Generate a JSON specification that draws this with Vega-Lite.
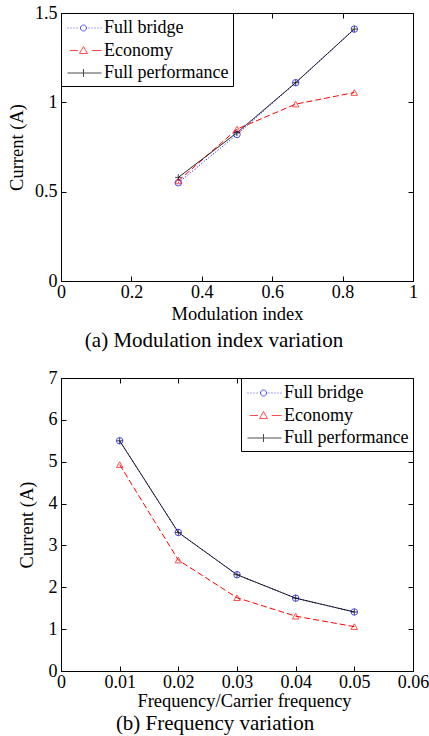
{
  "$schema": "https://vega.github.io/schema/vega-lite/v6.json",
  "padding": {"left": 7, "top": 3, "right": 5, "bottom": 2},
  "spacing": 17,
  "datasets": {
    "modulation": [
      {"m": 0.3333, "current": 0.55, "series": "Full bridge"},
      {"m": 0.5, "current": 0.82, "series": "Full bridge"},
      {"m": 0.6667, "current": 1.11, "series": "Full bridge"},
      {"m": 0.8333, "current": 1.41, "series": "Full bridge"},
      {"m": 0.3333, "current": 0.56, "series": "Economy"},
      {"m": 0.5, "current": 0.85, "series": "Economy"},
      {"m": 0.6667, "current": 0.99, "series": "Economy"},
      {"m": 0.8333, "current": 1.055, "series": "Economy"},
      {"m": 0.3333, "current": 0.58, "series": "Full performance"},
      {"m": 0.5, "current": 0.83, "series": "Full performance"},
      {"m": 0.6667, "current": 1.11, "series": "Full performance"},
      {"m": 0.8333, "current": 1.41, "series": "Full performance"}
    ],
    "frequency": [
      {"f": 0.01, "current": 5.5, "series": "Full bridge"},
      {"f": 0.02, "current": 3.31, "series": "Full bridge"},
      {"f": 0.03, "current": 2.3, "series": "Full bridge"},
      {"f": 0.04, "current": 1.74, "series": "Full bridge"},
      {"f": 0.05, "current": 1.41, "series": "Full bridge"},
      {"f": 0.01, "current": 4.93, "series": "Economy"},
      {"f": 0.02, "current": 2.65, "series": "Economy"},
      {"f": 0.03, "current": 1.75, "series": "Economy"},
      {"f": 0.04, "current": 1.31, "series": "Economy"},
      {"f": 0.05, "current": 1.06, "series": "Economy"},
      {"f": 0.01, "current": 5.5, "series": "Full performance"},
      {"f": 0.02, "current": 3.31, "series": "Full performance"},
      {"f": 0.03, "current": 2.3, "series": "Full performance"},
      {"f": 0.04, "current": 1.74, "series": "Full performance"},
      {"f": 0.05, "current": 1.41, "series": "Full performance"}
    ]
  },
  "config": {
    "font": "Liberation Serif",
    "view": {"stroke": "black", "strokeWidth": 1},
    "axis": {
      "grid": false,
      "domainColor": "black",
      "tickColor": "black",
      "labelColor": "black",
      "titleColor": "black",
      "labelFont": "Liberation Serif",
      "titleFont": "Liberation Serif",
      "labelFontSize": 18,
      "titleFontSize": 18.5,
      "titleFontWeight": "normal",
      "tickSize": -5,
      "labelOverlap": false,
      "labelFlush": false,
      "format": "~g"
    },
    "axisX": {"labelPadding": 7},
    "axisY": {"labelPadding": 9},
    "legend": {
      "strokeColor": "black",
      "fillColor": "white",
      "labelFontSize": 18,
      "labelColor": "black",
      "labelFont": "Liberation Serif",
      "symbolSize": 441,
      "symbolStrokeWidth": 1,
      "padding": 4,
      "rowPadding": 2.5,
      "offset": 0,
      "title": null,
      "labelOffset": 17
    },
    "title": {"color": "black", "font": "Liberation Serif"}
  },
  "vconcat": [
    {
      "width": 352,
      "height": 268,
      "data": {"name": "modulation"},
      "title": {"text": "(a) Modulation index variation", "orient": "bottom", "fontSize": 21, "fontWeight": "normal", "dx": -23, "offset": 7},
      "layer": [
        {
          "mark": {"type": "line", "strokeWidth": 1},
          "encoding": {
            "x": {"field": "m", "type": "quantitative", "scale": {"domain": [0, 1], "nice": false},
                  "axis": {"values": [0, 0.2, 0.4, 0.6, 0.8, 1], "title": "Modulation index", "titlePadding": 3}},
            "y": {"field": "current", "type": "quantitative", "scale": {"domain": [0, 1.5], "nice": false},
                  "axis": {"values": [0, 0.5, 1, 1.5], "title": "Current (A)", "titlePadding": 8}},
            "color": {"field": "series", "type": "nominal", "legend": null,
                      "scale": {"domain": ["Full bridge", "Economy", "Full performance"], "range": ["#0000ff", "#ff0000", "#000000"]}},
            "strokeDash": {"field": "series", "type": "nominal", "legend": null,
                      "scale": {"domain": ["Full bridge", "Economy", "Full performance"], "range": [[1, 2], [6, 3], [1, 0]]}}
          }
        },
        {
          "mark": {"type": "point", "filled": false, "strokeWidth": 1, "size": 42},
          "encoding": {
            "x": {"field": "m", "type": "quantitative", "axis": null},
            "y": {"field": "current", "type": "quantitative", "axis": null},
            "color": {"field": "series", "type": "nominal", "legend": null,
                      "scale": {"domain": ["Full bridge", "Economy", "Full performance"], "range": ["#0000ff", "#ff0000", "#000000"]}},
            "shape": {"field": "series", "type": "nominal", "legend": null,
                      "scale": {"domain": ["Full bridge", "Economy", "Full performance"], "range": ["circle", "triangle-up", "M-1,0L1,0M0,-1L0,1"]}}
          }
        },
        {
          "transform": [{"filter": "false"}],
          "mark": {"type": "point", "filled": false, "strokeWidth": 1},
          "encoding": {
            "x": {"field": "m", "type": "quantitative", "axis": {"orient": "top", "labels": false, "title": null, "values": [0, 0.2, 0.4, 0.6, 0.8, 1], "domain": false}},
            "y": {"field": "current", "type": "quantitative", "axis": {"orient": "right", "labels": false, "title": null, "values": [0, 0.5, 1, 1.5], "domain": false}},
            "color": {"field": "series", "type": "nominal",
                      "scale": {"domain": ["Full bridge", "Economy", "Full performance"], "range": ["#0000ff", "#ff0000", "#000000"]},
                      "legend": {"orient": "top-left"}},
            "shape": {"field": "series", "type": "nominal",
                      "scale": {"domain": ["Full bridge", "Economy", "Full performance"],
                                "range": [
                                  "M-0.81,0h0.095M-0.524,0h0.095M-0.238,0h0.095M0.048,0h0.095M1.19,0h0.095M1.476,0h0.095M1.762,0h0.095M2.048,0h0.095M2.333,0h0.095M0.428,0A0.286,0.286 0 1,0 1,0A0.286,0.286 0 1,0 0.428,0",
                                  "M-0.6,0L0.19,0M1.5,0L2.43,0M0.714,-0.38L1.095,0.29L0.333,0.29Z",
                                  "M-0.81,0L2.43,0M0.714,-0.38L0.714,0.38"
                                ]},
                      "legend": {"orient": "top-left"}}
          }
        }
      ],
      "resolve": {"scale": {"color": "independent", "shape": "independent", "strokeDash": "independent"}, "axis": {"x": "independent", "y": "independent"}}
    },
    {
      "width": 352,
      "height": 293,
      "data": {"name": "frequency"},
      "title": {"text": "(b) Frequency variation", "orient": "bottom", "fontSize": 21, "fontWeight": "normal", "dx": -22, "offset": 3},
      "layer": [
        {
          "mark": {"type": "line", "strokeWidth": 1},
          "encoding": {
            "x": {"field": "f", "type": "quantitative", "scale": {"domain": [0, 0.06], "nice": false},
                  "axis": {"values": [0, 0.01, 0.02, 0.03, 0.04, 0.05, 0.06], "title": "Frequency/Carrier frequency", "titlePadding": 0, "titleX": 183}},
            "y": {"field": "current", "type": "quantitative", "scale": {"domain": [0, 7], "nice": false},
                  "axis": {"values": [0, 1, 2, 3, 4, 5, 6, 7], "title": "Current (A)", "titlePadding": 12}},
            "color": {"field": "series", "type": "nominal", "legend": null,
                      "scale": {"domain": ["Full bridge", "Economy", "Full performance"], "range": ["#0000ff", "#ff0000", "#000000"]}},
            "strokeDash": {"field": "series", "type": "nominal", "legend": null,
                      "scale": {"domain": ["Full bridge", "Economy", "Full performance"], "range": [[1, 2], [6, 3], [1, 0]]}}
          }
        },
        {
          "mark": {"type": "point", "filled": false, "strokeWidth": 1, "size": 42},
          "encoding": {
            "x": {"field": "f", "type": "quantitative", "axis": null},
            "y": {"field": "current", "type": "quantitative", "axis": null},
            "color": {"field": "series", "type": "nominal", "legend": null,
                      "scale": {"domain": ["Full bridge", "Economy", "Full performance"], "range": ["#0000ff", "#ff0000", "#000000"]}},
            "shape": {"field": "series", "type": "nominal", "legend": null,
                      "scale": {"domain": ["Full bridge", "Economy", "Full performance"], "range": ["circle", "triangle-up", "M-1,0L1,0M0,-1L0,1"]}}
          }
        },
        {
          "transform": [{"filter": "false"}],
          "mark": {"type": "point", "filled": false, "strokeWidth": 1},
          "encoding": {
            "x": {"field": "f", "type": "quantitative", "axis": {"orient": "top", "labels": false, "title": null, "values": [0, 0.01, 0.02, 0.03, 0.04, 0.05, 0.06], "domain": false}},
            "y": {"field": "current", "type": "quantitative", "axis": {"orient": "right", "labels": false, "title": null, "values": [0, 1, 2, 3, 4, 5, 6, 7], "domain": false}},
            "color": {"field": "series", "type": "nominal",
                      "scale": {"domain": ["Full bridge", "Economy", "Full performance"], "range": ["#0000ff", "#ff0000", "#000000"]},
                      "legend": {"orient": "top-right"}},
            "shape": {"field": "series", "type": "nominal",
                      "scale": {"domain": ["Full bridge", "Economy", "Full performance"],
                                "range": [
                                  "M-0.81,0h0.095M-0.524,0h0.095M-0.238,0h0.095M0.048,0h0.095M1.19,0h0.095M1.476,0h0.095M1.762,0h0.095M2.048,0h0.095M2.333,0h0.095M0.428,0A0.286,0.286 0 1,0 1,0A0.286,0.286 0 1,0 0.428,0",
                                  "M-0.6,0L0.19,0M1.5,0L2.43,0M0.714,-0.38L1.095,0.29L0.333,0.29Z",
                                  "M-0.81,0L2.43,0M0.714,-0.38L0.714,0.38"
                                ]},
                      "legend": {"orient": "top-right"}}
          }
        }
      ],
      "resolve": {"scale": {"color": "independent", "shape": "independent", "strokeDash": "independent"}, "axis": {"x": "independent", "y": "independent"}}
    }
  ]
}
